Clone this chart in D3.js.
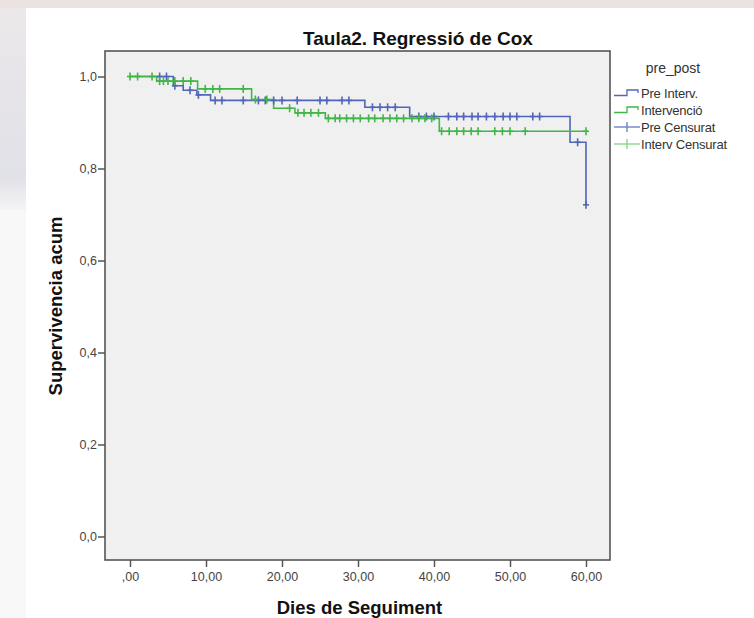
<!DOCTYPE html>
<html>
<head>
<meta charset="utf-8">
<script src="https://cdn.jsdelivr.net/npm/d3@7"></script>
<style>
  html, body { margin: 0; padding: 0; background: #fff; }
  svg { display: block; font-family: "Liberation Sans", Arial, sans-serif; }
</style>
</head>
<body>
<svg id="chart" width="754" height="618"></svg>
<script>
// Kaplan-Meier steps (dies, supervivencia acumulada)
const preTimes    = [0, 5.7, 7.0, 8.8, 10.6, 30.9, 36.8, 57.9, 60.0];
const preSurv     = [1.0, 0.980, 0.970, 0.960, 0.948, 0.933, 0.913, 0.857, 0.721];
const preCensored = [3.9, 4.8, 5.9, 7.9, 9.0, 11.2, 12.1, 14.9, 16.9, 17.8, 18.9, 20.0,
                     22.0, 25.0, 25.9, 27.9, 28.8, 31.9, 32.9, 33.9, 34.9, 38.0, 39.0,
                     40.0, 41.9, 43.0, 43.9, 45.0, 45.8, 46.9, 48.0, 49.1, 50.0, 50.9,
                     53.0, 53.9, 58.9, 60.0];

const intTimes    = [0, 3.5, 8.9, 16.0, 18.9, 21.7, 25.7, 40.7, 60.0];
const intSurv     = [1.0, 0.990, 0.973, 0.950, 0.931, 0.921, 0.909, 0.881, 0.881];
const intCensored = [0.0, 1.0, 2.9, 3.9, 4.4, 5.0, 5.9, 7.0, 8.0, 9.9, 10.9, 11.8, 14.9,
                     16.5, 18.0, 21.0, 22.1, 22.9, 23.8, 24.8, 26.1, 27.0, 27.6, 28.5,
                     29.4, 30.3, 31.4, 32.2, 33.3, 34.2, 35.1, 36.0, 37.1, 38.0, 38.8,
                     39.7, 41.0, 42.0, 43.0, 43.9, 44.9, 45.8, 48.0, 49.0, 50.0, 52.0, 60.0];

const xTicks = [0, 10, 20, 30, 40, 50, 60];
const yTicks = [0, 0.2, 0.4, 0.6, 0.8, 1.0];

const legendLabels = ['Pre Interv.', 'Intervenció', 'Pre Censurat', 'Interv Censurat'];

const BLUE        = '#5266b9';
const GREEN       = '#42b649';
const BLUE_LIGHT  = '#6f82c8';
const GREEN_LIGHT = '#8fd690';

// frame of the plot area
const FRAME = { left: 105, right: 610, top: 51, bottom: 560 };

const svg = d3.select('#chart');

// faded slide background round the pasted chart
svg.append('rect').attr('x', 0).attr('y', 0).attr('width', 754).attr('height', 618).attr('fill', '#ffffff');
let grad = svg.append('defs').append('linearGradient')
    .attr('id', 'leftfade').attr('x1', 0).attr('y1', 0).attr('x2', 0).attr('y2', 1);
grad.append('stop').attr('offset', '0%').attr('stop-color', '#ece8ea');
grad.append('stop').attr('offset', '85%').attr('stop-color', '#e1e1e8');
grad.append('stop').attr('offset', '100%').attr('stop-color', '#f4f4f6');
svg.append('rect').attr('x', 0).attr('y', 0).attr('width', 26).attr('height', 210).attr('fill', 'url(#leftfade)');
svg.append('rect').attr('x', 0).attr('y', 210).attr('width', 26).attr('height', 408).attr('fill', '#f8f8f8');
svg.append('rect').attr('x', 0).attr('y', 0).attr('width', 754).attr('height', 8).attr('fill', '#ebe3e2');

const x = d3.scaleLinear().domain([0, 60]).range([130, 586]);
const y = d3.scaleLinear().domain([0, 1]).range([536.5, 76.5]);

// plot background
svg.append('rect')
    .attr('x', FRAME.left).attr('y', FRAME.top)
    .attr('width', FRAME.right - FRAME.left).attr('height', FRAME.bottom - FRAME.top)
    .attr('fill', '#f0f0f0');

// axes
let yAxis = svg.append('g')
    .attr('transform', `translate(${FRAME.left},0)`)
    .call(d3.axisLeft(y).tickValues(yTicks).tickSize(7).tickPadding(1)
        .tickFormat(d => d.toFixed(1).replace('.', ',')));

let xAxis = svg.append('g')
    .attr('transform', `translate(0,${FRAME.bottom})`)
    .call(d3.axisBottom(x).tickValues(xTicks).tickSize(7).tickPadding(5)
        .tickFormat(d => d === 0 ? ',00' : d.toFixed(2).replace('.', ',')));

[xAxis, yAxis].forEach(a => {
    a.select('.domain').remove();
    a.selectAll('line').attr('stroke', '#555').attr('stroke-width', 1.5);
    a.selectAll('text').attr('fill', '#444').attr('font-size', 12.5);
});

// frame
svg.append('rect')
    .attr('x', FRAME.left).attr('y', FRAME.top)
    .attr('width', FRAME.right - FRAME.left).attr('height', FRAME.bottom - FRAME.top)
    .attr('fill', 'none').attr('stroke', '#555').attr('stroke-width', 1.6);

// survival at time t for a step curve
function survAt (times, surv, t) {
    let i = d3.bisectRight(times, t) - 1;
    return surv[Math.max(0, i)];
}

const step = d3.line()
    .x(d => x(d[0]))
    .y(d => y(d[1]))
    .curve(d3.curveStepAfter);

let curves = [
    { times: preTimes, surv: preSurv, censored: preCensored, color: BLUE },
    { times: intTimes, surv: intSurv, censored: intCensored, color: GREEN }
];

curves.forEach(c => {
    svg.append('path')
        .attr('d', step(d3.zip(c.times, c.surv)))
        .attr('fill', 'none')
        .attr('stroke', c.color)
        .attr('stroke-width', 1.6);
});

curves.forEach(c => {
    let marks = svg.append('g')
        .attr('stroke', c.color)
        .attr('stroke-width', 1.6);

    c.censored.forEach(t => {
        let cx = x(t);
        let cy = y(survAt(c.times, c.surv, t));
        marks.append('line')
            .attr('x1', cx).attr('x2', cx)
            .attr('y1', cy - 4).attr('y2', cy + 4);
        marks.append('line')
            .attr('x1', cx - 3).attr('x2', cx + 3)
            .attr('y1', cy).attr('y2', cy);
    });
});

// titles
svg.append('text')
    .attr('x', 418).attr('y', 45)
    .attr('text-anchor', 'middle')
    .attr('font-size', 19).attr('font-weight', 'bold').attr('fill', '#111')
    .text('Taula2. Regressió de Cox');

svg.append('text')
    .attr('x', (FRAME.left + FRAME.right) / 2 + 2).attr('y', 614)
    .attr('text-anchor', 'middle')
    .attr('font-size', 18.5).attr('font-weight', 'bold').attr('fill', '#111')
    .text('Dies de Seguiment');

svg.append('text')
    .attr('transform', 'translate(62,306) rotate(-90)')
    .attr('text-anchor', 'middle')
    .attr('font-size', 18.5).attr('font-weight', 'bold').attr('fill', '#111')
    .text('Supervivencia acum');

// legend
let legend = svg.append('g');

legend.append('text')
    .attr('x', 673).attr('y', 73)
    .attr('text-anchor', 'middle')
    .attr('font-size', 14).attr('fill', '#333')
    .text('pre_post');

let legendColors = [BLUE, GREEN, BLUE_LIGHT, GREEN_LIGHT];

legendLabels.forEach((label, i) => {
    let ly = 93 + i * 17;
    if (i < 2) {
        legend.append('path')
            .attr('d', `M614,${ly + 2.5}H627V${ly - 3}H638V${ly}`)
            .attr('fill', 'none')
            .attr('stroke', legendColors[i])
            .attr('stroke-width', 1.3);
    } else {
        legend.append('line')
            .attr('x1', 614).attr('x2', 640).attr('y1', ly).attr('y2', ly)
            .attr('stroke', legendColors[i]).attr('stroke-width', 1.4);
        legend.append('line')
            .attr('x1', 627).attr('x2', 627).attr('y1', ly - 5).attr('y2', ly + 5)
            .attr('stroke', legendColors[i]).attr('stroke-width', 1.4);
    }
    legend.append('text')
        .attr('x', 641).attr('y', ly + 4.5)
        .attr('font-size', 13).attr('fill', '#333')
        .attr('letter-spacing', -0.2)
        .text(label);
});
</script>
</body>
</html>
